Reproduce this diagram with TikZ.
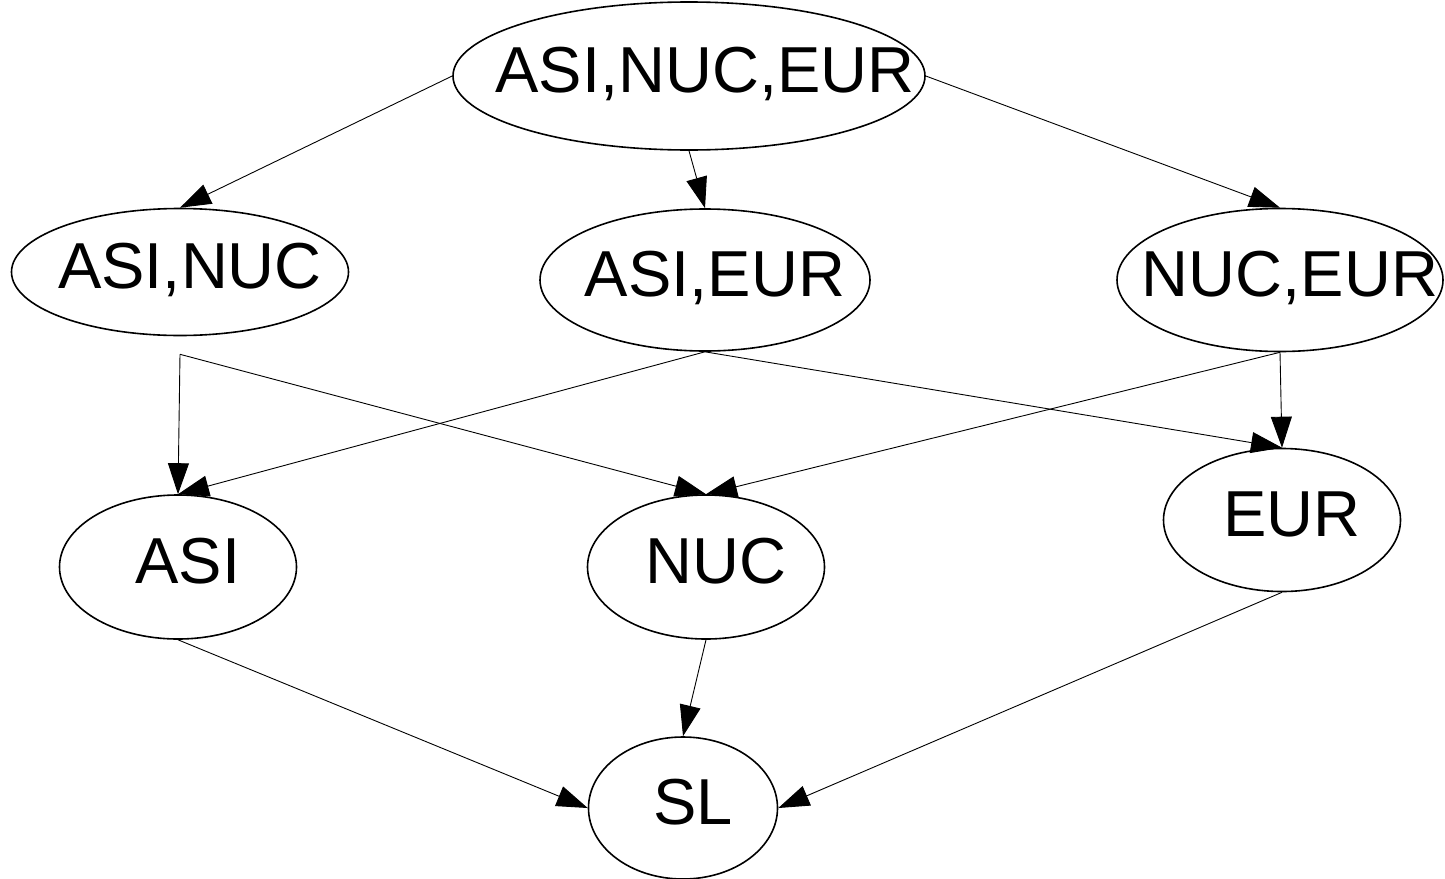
\documentclass[tikz,border=0pt]{standalone}
\usepackage{fontspec}
\setmainfont{Liberation Sans}
\usetikzlibrary{shapes,arrows.meta}

\begin{document}
\begin{tikzpicture}[x=1pt,y=-1pt,
  state/.style={draw, ellipse, inner sep=0pt, line width=1.6pt},
  lbl/.style={font=\fontsize{65}{78}\selectfont, inner sep=0pt, text depth=0pt, xshift=10pt, yshift=6pt},
  link/.style={-{Triangle[length=31pt,width=21pt]}, line width=0.9pt}]
\useasboundingbox (0,0) rectangle (1445,878);
\node[state, minimum width=472pt, minimum height=148pt, label={[lbl,xshift=6pt]center:{ASI,NUC,EUR}}] (top) at (689,76) {};
\node[state, minimum width=337pt, minimum height=127pt, label={[lbl]center:{ASI,NUC}}] (asinuc) at (180,272) {};
\node[state, minimum width=330pt, minimum height=142pt, label={[lbl]center:{ASI,EUR}}] (asieur) at (705,280) {};
\node[state, minimum width=326pt, minimum height=143pt, label={[lbl]center:{NUC,EUR}}] (nuceur) at (1280,280) {};
\node[state, minimum width=237pt, minimum height=144pt, label={[lbl]center:ASI}] (asi) at (178,567) {};
\node[state, minimum width=237pt, minimum height=144pt, label={[lbl]center:NUC}] (nuc) at (706,567) {};
\node[state, minimum width=237pt, minimum height=143pt, label={[lbl]center:EUR}] (eur) at (1282,520) {};
\node[state, minimum width=189pt, minimum height=142pt, label={[lbl]center:SL}] (sl) at (683,808) {};
\coordinate (asinuc-out) at ([yshift=-18pt]asinuc.south);

\draw [link] (top.west) -- (asinuc.north);
\draw [link] (top.south) -- (asieur.north);
\draw [link] (top.east) -- (nuceur.north);
\draw [link] (asinuc-out) -- (asi.north);
\draw [link] (asinuc-out) -- (nuc.north);
\draw [link] (asieur.south) -- (asi.north);
\draw [link] (asieur.south) -- (eur.north);
\draw [link] (nuceur.south) -- (nuc.north);
\draw [link] (nuceur.south) -- (eur.north);
\draw [link] (asi.south) -- (sl.west);
\draw [link] (nuc.south) -- (sl.north);
\draw [link] (eur.south) -- (sl.east);
\end{tikzpicture}
\end{document}
